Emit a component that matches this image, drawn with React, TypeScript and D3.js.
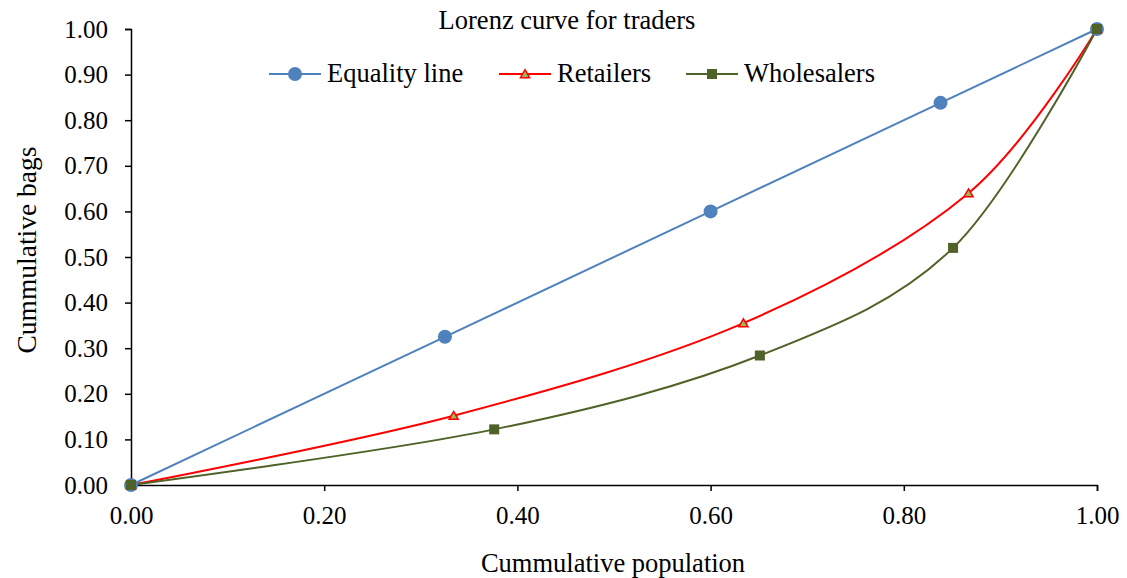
import { useEffect, useRef } from 'react';
import * as d3 from 'd3';

const W = 1127;
const H = 578;

// data
const equalityX = [0, 0.325, 0.6, 0.838, 1];
const equalityY = [0, 0.325, 0.6, 0.838, 1];
const retailX = [0, 0.334, 0.634, 0.867, 1];
const retailY = [0, 0.152, 0.355, 0.64, 1];
const wholesaleX = [0, 0.376, 0.651, 0.851, 1];
const wholesaleY = [0, 0.122, 0.284, 0.52, 1];
const xTicks = [0, 0.2, 0.4, 0.6, 0.8, 1];
const yTicks = [0, 0.1, 0.2, 0.3, 0.4, 0.5, 0.6, 0.7, 0.8, 0.9, 1];

const FONT = "'Liberation Serif', 'Times New Roman', serif";
const BLUE = '#4f81bd';
const RED = '#ff0000';
const GREEN = '#4f6228';

export default function App() {
  const svgRef = useRef<SVGSVGElement | null>(null);

  useEffect(() => {
    const svg = d3.select(svgRef.current);
    svg.selectAll('*').remove();

    const x = d3.scaleLinear().domain([0, 1]).range([131, 1097]);
    const y = d3.scaleLinear().domain([0, 1]).range([485, 29]);

    const txt = (sel: any, size: number) =>
      sel.style('font-family', FONT).style('font-size', `${size}px`).attr('fill', '#000');

    // axes
    const xAxis = svg.append('g')
      .attr('transform', `translate(0,${y(0)})`)
      .call(d3.axisBottom(x).tickValues(xTicks).tickFormat(d3.format('.2f')).tickSizeOuter(0).tickSize(6).tickPadding(15));
    const yAxis = svg.append('g')
      .attr('transform', `translate(${x(0)},0)`)
      .call(d3.axisLeft(y).tickValues(yTicks).tickFormat(d3.format('.2f')).tickSizeOuter(0).tickSize(6).tickPadding(17));

    [xAxis, yAxis].forEach(a => {
      a.select('.domain').attr('stroke', '#000').attr('stroke-width', 1.5);
      a.selectAll('.tick line').attr('stroke', '#000').attr('stroke-width', 1.5);
      txt(a.selectAll('.tick text'), 25);
    });

    const series = [
      { xs: equalityX, ys: equalityY, color: BLUE, curve: d3.curveLinear, marker: 'circle' },
      { xs: retailX, ys: retailY, color: RED, curve: d3.curveCatmullRom.alpha(0), marker: 'triangle' },
      { xs: wholesaleX, ys: wholesaleY, color: GREEN, curve: d3.curveCatmullRom.alpha(0), marker: 'square' },
    ];

    const drawMarker = (g: any, kind: string, cx: number, cy: number) => {
      if (kind === 'circle') {
        g.append('circle').attr('cx', cx).attr('cy', cy).attr('r', 7).attr('fill', BLUE);
      } else if (kind === 'triangle') {
        g.append('path')
          .attr('d', d3.symbol(d3.symbolTriangle, 36)())
          .attr('transform', `translate(${cx},${cy + 1})`)
          .attr('fill', '#9bbb59').attr('stroke', RED).attr('stroke-width', 1.5);
      } else {
        g.append('rect').attr('x', cx - 5).attr('y', cy - 5).attr('width', 10).attr('height', 10).attr('fill', GREEN);
      }
    };

    series.forEach(s => {
      const pts = s.xs.map((v, i) => [x(v), y(s.ys[i])] as [number, number]);
      svg.append('path')
        .attr('d', d3.line().curve(s.curve as any)(pts))
        .attr('fill', 'none').attr('stroke', s.color).attr('stroke-width', 2);
    });
    series.forEach(s => {
      const g = svg.append('g');
      s.xs.forEach((v, i) => drawMarker(g, s.marker, x(v), y(s.ys[i])));
    });

    // title
    txt(svg.append('text').attr('x', 567).attr('y', 29).attr('text-anchor', 'middle'), 26.5)
      .text('Lorenz curve for traders');

    // legend
    const legend = [
      { label: 'Equality line', color: BLUE, marker: 'circle', x0: 269 },
      { label: 'Retailers', color: RED, marker: 'triangle', x0: 499 },
      { label: 'Wholesalers', color: GREEN, marker: 'square', x0: 686 },
    ];
    legend.forEach(l => {
      const g = svg.append('g');
      g.append('line').attr('x1', l.x0).attr('x2', l.x0 + 52).attr('y1', 74).attr('y2', 74)
        .attr('stroke', l.color).attr('stroke-width', 2);
      drawMarker(g, l.marker, l.x0 + 26, 74);
      txt(g.append('text').attr('x', l.x0 + 58).attr('y', 82), 26.5).text(l.label);
    });

    // axis titles
    txt(svg.append('text').attr('x', 613).attr('y', 572).attr('text-anchor', 'middle'), 26.5)
      .text('Cummulative population');
    txt(svg.append('text').attr('transform', `translate(36,250) rotate(-90)`).attr('text-anchor', 'middle'), 27.5)
      .text('Cummulative bags');
  }, []);

  return (
    <div style={{ position: 'absolute', left: 0, top: 0, width: W, height: H, background: '#fff' }}>
      <svg ref={svgRef} width={W} height={H} />
    </div>
  );
}
